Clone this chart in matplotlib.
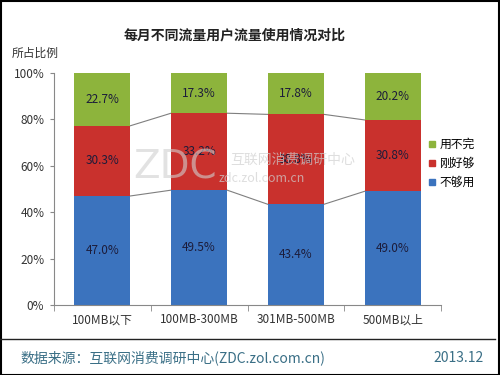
import numpy as np
import matplotlib.pyplot as plt
from matplotlib.patches import Rectangle
from matplotlib.lines import Line2D

plt.rcParams['font.family'] = ['Noto Sans CJK SC', 'DejaVu Sans']

# данные
categories = ["100MB以下", "100MB-300MB", "301MB-500MB", "500MB以上"]
not_enough = [47.0, 49.5, 43.4, 49.0]   # 不够用
just_enough = [30.3, 33.2, 38.8, 30.8]  # 刚好够
too_much = [22.7, 17.3, 17.8, 20.2]     # 用不完
series_names = ["不够用", "刚好够", "用不完"]
colors = ["#3B73BE", "#C9312D", "#8DB43C"]

fig = plt.figure(figsize=(5, 3.75), dpi=100)
ax = fig.add_axes([0.108, 0.187, 0.774, 0.618])

x = np.arange(len(categories))
w = 0.58
bottom = np.zeros(len(categories))
series = [not_enough, just_enough, too_much]
for vals, c in zip(series, colors):
    vals = np.array(vals)
    ax.bar(x, vals, w, bottom=bottom, color=c, edgecolor='none', zorder=2)
    for xi, b, v in zip(x, bottom, vals):
        ax.text(xi, b + v / 2, "{:.1f}%".format(v), ha='center', va='center',
                fontsize=8.5, color='#1c1c3a', zorder=4)
    bottom = bottom + vals
    # серые соединительные линии между столбцами
    if c != colors[-1]:
        for i in range(len(categories) - 1):
            ax.plot([x[i] + w / 2, x[i + 1] - w / 2], [bottom[i], bottom[i + 1]],
                    color='#7f7f7f', lw=0.8, zorder=1)

ax.set_xlim(-0.5, 3.5)
ax.set_ylim(0, 100)
ax.set_yticks(range(0, 101, 20))
ax.set_yticklabels(["{}%".format(v) for v in range(0, 101, 20)], fontsize=8.5, color='#333333')
ax.set_xticks(x)
ax.set_xticklabels(categories, fontsize=8.5, color='#333333')
ax.tick_params(axis='x', which='major', length=0, pad=6)
ax.set_xticks(np.arange(-0.5, 3.6, 1), minor=True)
ax.tick_params(axis='x', which='minor', length=4, color='#888888')
ax.tick_params(axis='y', length=3, color='#888888', pad=4)
for s in ['top', 'right']:
    ax.spines[s].set_visible(False)
for s in ['left', 'bottom']:
    ax.spines[s].set_color('#888888')
    ax.spines[s].set_linewidth(0.8)

# водяной знак
fig.text(0.35, 0.552, "ZDC", fontsize=28, color='#d0d0d0', alpha=0.6,
         ha='center', va='center', family='DejaVu Sans', zorder=3)
fig.text(0.586, 0.573, "互联网消费调研中心", fontsize=10, color='#d0d0d0', alpha=0.7,
         ha='center', va='center', zorder=3)
fig.text(0.524, 0.525, "zdc.zol.com.cn", fontsize=9, color='#d0d0d0', alpha=0.7,
         ha='center', va='center', zorder=3)

fig.text(0.47, 0.905, "每月不同流量用户流量使用情况对比", fontsize=10,
         fontweight='bold', ha='center', va='center', color='#222222')
fig.text(0.07, 0.858, "所占比例", fontsize=8.5, ha='center', va='center', color='#333333')

# легенда
handles = [Line2D([], [], marker='s', ls='none', color=c, markersize=5) for c in colors[::-1]]
ax.legend(handles, series_names[::-1], loc='center left', bbox_to_anchor=(0.935, 0.61),
          frameon=False, fontsize=8.5, handletextpad=0.1, labelspacing=0.5,
          handlelength=1.0)

# нижняя подпись
fig.add_artist(Line2D([0.0, 0.99], [0.097, 0.097], color='#222222', lw=1.0,
                      transform=fig.transFigure))
fig.text(0.04, 0.045, "数据来源：互联网消费调研中心(ZDC.zol.com.cn)", fontsize=10,
         color='#3a6f86', ha='left', va='center')
fig.text(0.968, 0.045, "2013.12", fontsize=10, color='#3a6f86', ha='right', va='center')

fig.patches.append(Rectangle((0.001, 0.001), 0.997, 0.997, transform=fig.transFigure,
                             fill=False, edgecolor='black', lw=1.5))

fig.savefig("out.png", dpi=100)
